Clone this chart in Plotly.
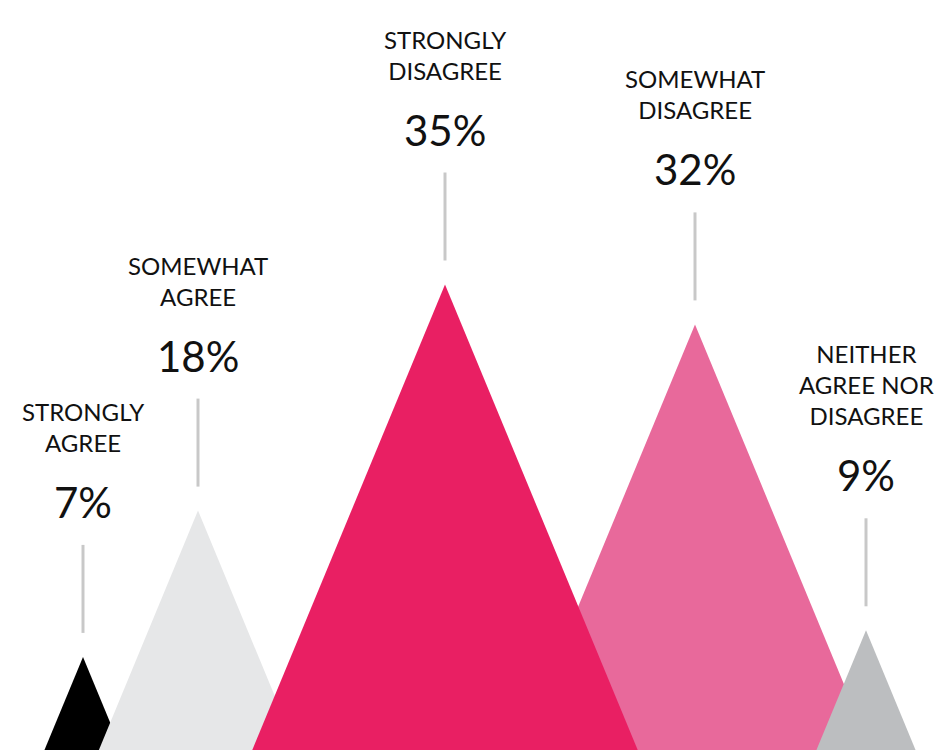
import plotly.graph_objects as go

# ---- data ----
categories = ["STRONGLY<br>AGREE", "SOMEWHAT<br>AGREE", "STRONGLY<br>DISAGREE",
              "SOMEWHAT<br>DISAGREE", "NEITHER<br>AGREE NOR<br>DISAGREE"]
values = [7, 18, 35, 32, 9]
value_labels = ["7%", "18%", "35%", "32%", "9%"]

# ---- layout / style ----
centers = [83, 198, 445, 695, 866]          # horizontal placement (px axis)
colors = ["#000000", "#e6e7e8", "#e91f63", "#e8699b", "#bcbec0"]
draw_order = [0, 1, 3, 2, 4]                 # stacking order of the peaks
W, H = 947, 752
PX_PER_UNIT = 13.3                           # vertical pixels per percentage point
SLOPE = 0.414                                # half-width / height of each peak
BASE_PX = 2                                  # baseline offset from bottom

y_min = -BASE_PX / PX_PER_UNIT
y_max = y_min + H / PX_PER_UNIT

fig = go.Figure()
for i in draw_order:
    v, c = values[i], centers[i]
    hw = v * PX_PER_UNIT * SLOPE
    fig.add_trace(go.Scatter(
        x=[c - hw, c, c + hw, c - hw], y=[0, v, 0, 0],
        mode="lines", fill="toself", fillcolor=colors[i],
        line=dict(width=0), hoverinfo="skip", showlegend=False))

FONT = "Lato, 'Open Sans', sans-serif"
for i, v in enumerate(values):
    c = centers[i]
    fig.add_shape(type="line", xref="x", yref="y", ysizemode="pixel", yanchor=v,
                  x0=c, x1=c, y0=24, y1=112,
                  line=dict(color="#c8c8c8", width=3))
    fig.add_annotation(x=c, y=v, text=value_labels[i], showarrow=False,
                       xanchor="center", yanchor="middle", yshift=155,
                       font=dict(family=FONT, size=42, color="#111111"))
    fig.add_annotation(x=c, y=v, text=categories[i], showarrow=False,
                       xanchor="center", yanchor="bottom", yshift=198,
                       font=dict(family=FONT, size=24, color="#111111"))

fig.update_layout(
    width=W, height=H, margin=dict(l=0, r=0, t=0, b=0),
    paper_bgcolor="white", plot_bgcolor="white",
    xaxis=dict(range=[0, W], visible=False, fixedrange=True),
    yaxis=dict(range=[y_min, y_max], visible=False, fixedrange=True),
)
fig.write_html("out.html")
